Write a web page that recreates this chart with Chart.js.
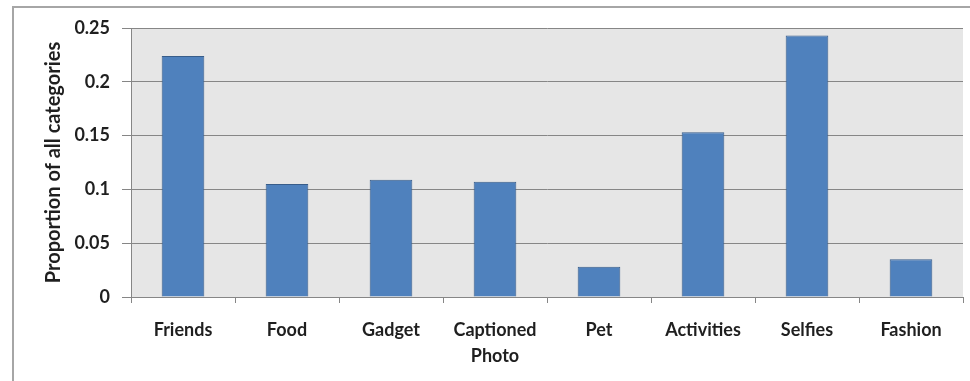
<!DOCTYPE html>
<html><head><meta charset="utf-8">
<script src="https://cdn.jsdelivr.net/npm/chart.js@4/dist/chart.umd.min.js"></script>
<style>
html,body{margin:0;padding:0;background:#fff;overflow:hidden;}
#wrap{position:relative;width:970px;height:381px;}
#frame{position:absolute;left:12px;top:6px;width:980px;height:400px;border:2px solid #a6a6a6;box-sizing:border-box;}
canvas{position:absolute;left:0;top:0;}
</style></head>
<body><div id="wrap"><div id="frame"></div><canvas id="c" width="970" height="381"></canvas></div>
<script>
const categories = ["Friends","Food","Gadget",["Captioned","Photo"],"Pet","Activities","Selfies","Fashion"];
const proportions = [0.224,0.105,0.109,0.107,0.028,0.153,0.243,0.035];
const yTickValues = [0,0.05,0.1,0.15,0.2,0.25];
const yTickLabels = ["0","0.05","0.1","0.15","0.2","0.25"];
const yTitle = "Proportion of all categories";

const bgPlugin = {
  id:'bg',
  beforeDraw(chart){
    const {ctx, chartArea:a} = chart;
    ctx.save(); ctx.fillStyle = '#e6e6e6';
    ctx.fillRect(a.left, a.top, a.right-a.left, a.bottom-a.top);
    ctx.restore();
  }
};
const fam = "Lato, 'Open Sans', sans-serif";
new Chart(document.getElementById('c'), {
  type:'bar',
  data:{labels:categories, datasets:[{data:proportions, backgroundColor:'#4f81bd', borderColor:'#385d8a', borderWidth:1, barPercentage:0.41, categoryPercentage:1}]},
  options:{
    responsive:false, animation:false, devicePixelRatio:1,
    layout:{padding:{left:0,top:28,right:7,bottom:0}},
    plugins:{legend:{display:false}, tooltip:{enabled:false}},
    scales:{
      x:{
        grid:{display:true, drawOnChartArea:false, drawTicks:true, tickLength:6, color:'#868686', offset:true},
        border:{color:'#868686', width:1},
        ticks:{font:{family:fam, size:18, weight:'bold', lineHeight:1.4}, color:'#1f1f1f', padding:15, maxRotation:0, autoSkip:false},
        afterFit(s){ s.height = 84; }
      },
      y:{
        min:0, max:0.25,
        afterBuildTicks(s){ s.ticks = yTickValues.map(v=>({value:v})); },
        grid:{color:'#868686', tickLength:9},
        border:{color:'#868686', width:1},
        ticks:{font:{family:fam, size:18, weight:'bold'}, color:'#1f1f1f', padding:12, callback:(v)=>{const i=yTickValues.findIndex(t=>Math.abs(t-v)<1e-9); return i>=0?yTickLabels[i]:'';}},
        title:{display:true, text:yTitle, font:{family:fam, size:20, weight:'bold'}, color:'#1f1f1f', padding:{top:42,bottom:0}},
        afterFit(s){ s.width = 131; }
      }
    }
  },
  plugins:[bgPlugin]
});
</script></body></html>
